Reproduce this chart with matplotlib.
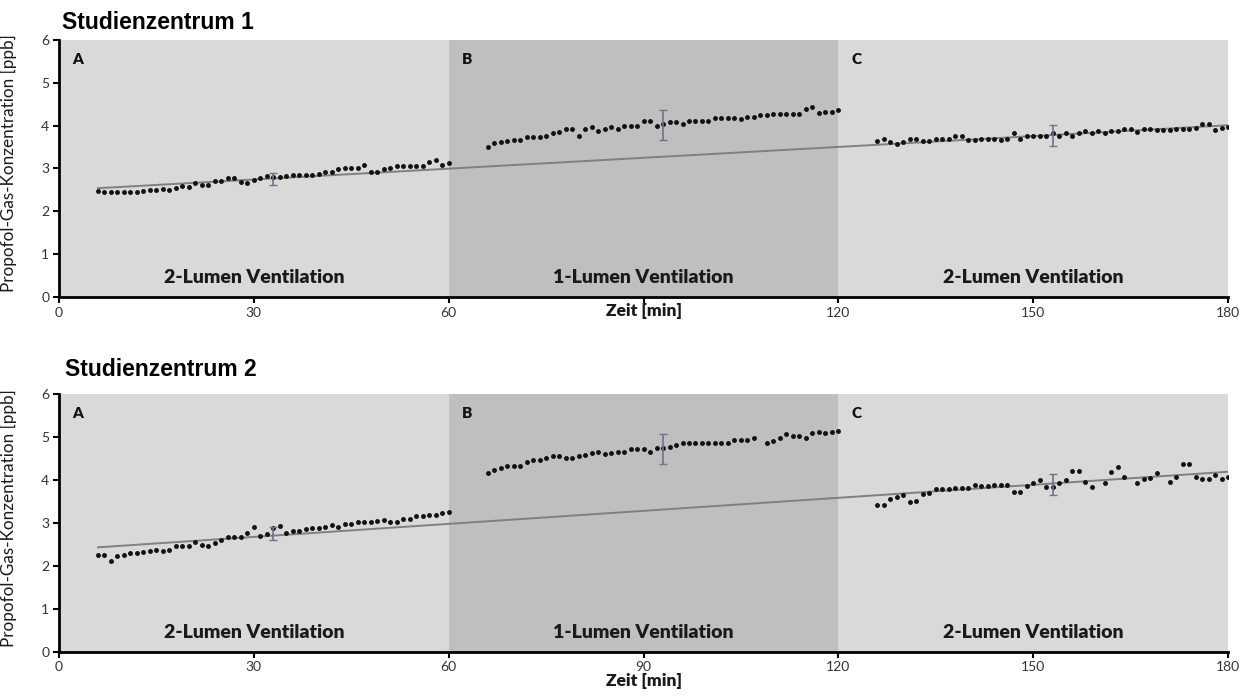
import numpy as np
import matplotlib
matplotlib.use("Agg")
import matplotlib.pyplot as plt

plt.rcParams['font.family'] = ['Lato', 'DejaVu Sans']

# minutes of each phase (one sample per minute)
t_a = np.arange(6, 61)
t_b = np.arange(66, 121)
t_c = np.arange(126, 181)

# Studienzentrum 1
top_a = [2.47, 2.44, 2.44, 2.44, 2.44, 2.44, 2.44, 2.47, 2.50, 2.50,
         2.53, 2.50, 2.54, 2.60, 2.57, 2.67, 2.61, 2.61, 2.70, 2.70,
         2.77, 2.77, 2.69, 2.66, 2.72, 2.77, 2.83, 2.80, 2.80, 2.83,
         2.85, 2.85, 2.85, 2.85, 2.88, 2.92, 2.92, 2.98, 3.02, 3.02,
         3.02, 3.08, 2.92, 2.92, 2.98, 3.02, 3.05, 3.05, 3.05, 3.05,
         3.05, 3.16, 3.20, 3.08, 3.13]
top_b = [3.51, 3.59, 3.61, 3.64, 3.66, 3.66, 3.73, 3.73, 3.73, 3.76,
         3.82, 3.86, 3.92, 3.92, 3.76, 3.92, 3.96, 3.88, 3.92, 3.96,
         3.92, 4.00, 4.00, 4.00, 4.11, 4.11, 4.00, 4.05, 4.08, 4.09,
         4.05, 4.11, 4.11, 4.11, 4.11, 4.18, 4.18, 4.18, 4.18, 4.16,
         4.21, 4.21, 4.24, 4.24, 4.27, 4.27, 4.27, 4.27, 4.27, 4.38,
         4.44, 4.30, 4.32, 4.32, 4.36]
top_c = [3.65, 3.68, 3.61, 3.57, 3.61, 3.68, 3.68, 3.65, 3.65, 3.68,
         3.70, 3.70, 3.76, 3.76, 3.66, 3.66, 3.70, 3.70, 3.70, 3.66,
         3.70, 3.83, 3.70, 3.76, 3.76, 3.76, 3.76, 3.83, 3.76, 3.83,
         3.76, 3.83, 3.87, 3.83, 3.87, 3.82, 3.87, 3.87, 3.92, 3.92,
         3.86, 3.92, 3.92, 3.89, 3.89, 3.89, 3.92, 3.92, 3.92, 3.95,
         4.03, 4.03, 3.90, 3.95, 3.98]

# Studienzentrum 2
bot_a = [2.25, 2.25, 2.12, 2.22, 2.25, 2.29, 2.29, 2.32, 2.35, 2.37,
         2.35, 2.37, 2.45, 2.45, 2.45, 2.56, 2.49, 2.47, 2.54, 2.60,
         2.68, 2.67, 2.67, 2.76, 2.90, 2.70, 2.73, 2.89, 2.93, 2.77,
         2.82, 2.82, 2.85, 2.87, 2.87, 2.91, 2.95, 2.91, 2.98, 2.98,
         3.01, 3.01, 3.01, 3.05, 3.07, 3.03, 3.03, 3.09, 3.09, 3.16,
         3.16, 3.19, 3.19, 3.23, 3.26]
bot_b = [4.17, 4.24, 4.27, 4.33, 4.33, 4.33, 4.41, 4.46, 4.46, 4.50,
         4.56, 4.56, 4.52, 4.52, 4.56, 4.59, 4.62, 4.65, 4.61, 4.62,
         4.65, 4.65, 4.71, 4.71, 4.71, 4.66, 4.74, 4.75, 4.76, 4.82,
         4.85, 4.85, 4.85, 4.85, 4.87, 4.87, 4.87, 4.87, 4.94, 4.94,
         4.94, 4.97, np.nan, 4.87, 4.90, 4.97, 5.06, 5.03, 5.03, 4.97,
         5.09, 5.12, 5.09, 5.12, 5.15]
bot_c = [3.42, 3.42, 3.55, 3.61, 3.64, 3.48, 3.52, 3.67, 3.69, 3.78,
         3.78, 3.78, 3.81, 3.81, 3.81, 3.89, 3.86, 3.86, 3.89, 3.89,
         3.89, 3.71, 3.71, 3.85, 3.93, 3.99, 3.83, 3.83, 3.92, 3.99,
         4.21, 4.21, 3.96, 3.83, np.nan, 3.93, 4.18, 4.31, 4.06, np.nan,
         3.93, 4.01, 4.05, 4.15, np.nan, 3.96, 4.07, 4.37, 4.37, 4.07,
         4.02, 4.02, 4.12, 4.02, 4.07]

# mean +- sd markers and linear trend
err_x = [33, 93, 153]
err_mean_1 = [2.75, 4.01, 3.77]
err_sd_1 = [0.14, 0.35, 0.25]
err_mean_2 = [2.75, 4.72, 3.89]
err_sd_2 = [0.16, 0.35, 0.25]
trend_x = [6, 180]
trend_1 = [2.54, 4.01]
trend_2 = [2.43, 4.19]

x_ticks = [0, 30, 60, 90, 120, 150, 180]
# upper panel: the "90" is hidden behind the axis title
x_ticklabels_top = ['0', '30', '60', '', '120', '150', '180']
x_ticklabels_bot = ['0', '30', '60', '90', '120', '150', '180']

phase_letters = ['A', 'B', 'C']
phase_labels = ['2-Lumen Ventilation', '1-Lumen Ventilation', '2-Lumen Ventilation']
phase_edges = [0, 60, 120, 180]
phase_colors = ['#d9d9d9', '#bfbfbf', '#d9d9d9']

fig = plt.figure(figsize=(12.53, 6.99), dpi=100)
ax1 = fig.add_axes([0.0471, 0.5751, 0.9330, 0.3677])
ax2 = fig.add_axes([0.0471, 0.0677, 0.9330, 0.3686])


def draw_panel(ax, series, means, sds, trend, ticklabels):
    for i in range(3):
        ax.axvspan(phase_edges[i], phase_edges[i + 1], color=phase_colors[i], lw=0, zorder=0)
        ax.text(phase_edges[i] + 2, 5.55, phase_letters[i], fontsize=11,
                fontweight='heavy', va='center', ha='left', color='#111111')
        ax.text((phase_edges[i] + phase_edges[i + 1]) / 2, 0.45, phase_labels[i],
                fontsize=14, fontweight='heavy', ha='center', va='center', color='#1a1a1a')
    ax.plot(trend_x, trend, color='#808080', lw=1.4, zorder=2)
    for t, y in zip([t_a, t_b, t_c], series):
        ax.plot(t, y, ls='none', marker='o', ms=2.5, color='#111111', zorder=3)
    ax.errorbar(err_x, means, yerr=sds, fmt='none', ecolor='#6d7488',
                elinewidth=1.2, capsize=3, capthick=1.0, zorder=4)

    ax.set_xlim(0, 180)
    ax.set_ylim(0, 6)
    ax.set_xticks(x_ticks)
    ax.set_xticklabels(ticklabels)
    ax.set_yticks(range(7))
    for s in ['top', 'right']:
        ax.spines[s].set_visible(False)
    for s in ['left', 'bottom']:
        ax.spines[s].set_linewidth(2.0)
    ax.tick_params(direction='out', length=4, width=1.5, labelsize=10,
                   labelcolor='#333333', pad=3)
    ax.set_ylabel('Propofol-Gas-Konzentration [ppb]', fontsize=12.3, color='#1a1a1a')
    ax.yaxis.set_label_coords(-0.036, 0.52)
    ax.set_xlabel('Zeit [min]', fontsize=12.5, fontweight='heavy', color='#1a1a1a', labelpad=0)


draw_panel(ax1, [top_a, top_b, top_c], err_mean_1, err_sd_1, trend_1, x_ticklabels_top)
draw_panel(ax2, [bot_a, bot_b, bot_c], err_mean_2, err_sd_2, trend_2, x_ticklabels_bot)

ax1.xaxis.label.set_va('center')
ax1.xaxis.set_label_coords(0.5, -0.055)

fig.text(0.0495, 0.9585, 'Studienzentrum 1', fontsize=16.5, fontweight='bold',
         family=['Liberation Sans', 'DejaVu Sans'], va='baseline')
fig.text(0.0515, 0.462, 'Studienzentrum 2', fontsize=16.5, fontweight='bold',
         family=['Liberation Sans', 'DejaVu Sans'], va='baseline')

fig.savefig('out.png', dpi=100)
